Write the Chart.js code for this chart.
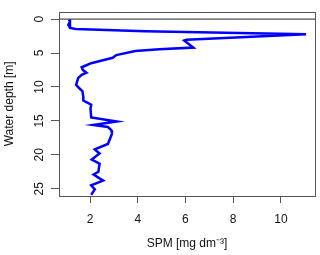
<!DOCTYPE html>
<html>
<head>
<meta charset="utf-8">
<script src="https://cdn.jsdelivr.net/npm/chart.js@4/dist/chart.umd.min.js"></script>
<style>
html, body { margin: 0; padding: 0; background: #fff; }
#wrap { width: 320px; height: 255px; }
</style>
</head>
<body>
<div id="wrap"><canvas id="c"></canvas></div>
<script>
// SPM profile
const depth = [0.05, 0.4, 0.85, 1.3, 1.45, 1.8, 2.25, 3.05, 3.15, 4.2, 4.45, 4.7, 5.3, 5.7, 6.1, 6.5, 6.8, 7.1,
    7.5, 7.9, 8.2, 8.7, 9.7, 10.2, 10.6, 11.5, 12.0, 12.6, 13.2, 14.5, 15.1, 15.6, 15.9, 16.4, 16.9, 18.4,
    19.2, 19.8, 20.7, 21.3, 22.5, 22.9, 23.8, 24.5, 25.1, 25.9];
const spm = [1.12, 1.16, 1.09, 1.16, 1.4, 4.3, 11.05, 6.05, 5.95, 6.33, 4.9, 3.9, 3.1, 2.95, 2.5, 2.05, 1.85, 1.65,
    1.7, 1.85, 1.65, 1.5, 1.42, 1.55, 1.68, 1.72, 1.72, 2.05, 2.02, 2.05, 3.12, 2.14, 2.75, 2.9, 2.92, 2.75,
    2.2, 2.4, 2.07, 2.4, 2.35, 2.15, 2.55, 2.05, 2.2, 2.05];

const xTicks = [2, 4, 6, 8, 10];
const yTicks = [0, 5, 10, 15, 20, 25];
const xLimits = [0.70, 11.43];
const yLimits = [-1.09, 26.07];
const refDepth = 0;

const axisColor = '#555';
const textColor = '#111';
const font = { family: 'Liberation Sans, Arial, sans-serif', size: 12 };

const profile = depth.map(function (d, i) { return { x: spm[i], y: d }; });
const zeroLine = xLimits.map(function (x) { return { x: x, y: refDepth }; });

const boxPlugin = {
    id: 'box',
    afterDatasetsDraw: function (chart) {
        const a = chart.chartArea;
        const ctx = chart.ctx;
        ctx.save();
        ctx.strokeStyle = axisColor;
        ctx.lineWidth = 1;
        ctx.strokeRect(Math.round(a.left) + 0.5, Math.round(a.top) + 0.5,
            Math.round(a.right - a.left), Math.round(a.bottom - a.top));
        ctx.restore();
    }
};

new Chart(document.getElementById('c'), {
    type: 'scatter',
    data: {
        datasets: [
            {
                data: zeroLine,
                showLine: true,
                borderColor: '#222',
                borderWidth: 1,
                pointRadius: 0,
                fill: false,
            },
            {
                data: profile,
                showLine: true,
                borderColor: '#0000ff',
                borderWidth: 2.5,
                pointRadius: 0,
                tension: 0,
                fill: false,
            }
        ]
    },
    options: {
        responsive: true,
        maintainAspectRatio: false,
        animation: false,
        layout: { padding: { top: 4, right: 5, left: 0, bottom: 0 } },
        scales: {
            x: {
                type: 'linear',
                min: xLimits[0],
                max: xLimits[1],
                afterBuildTicks: function (scale) {
                    scale.ticks = xTicks.map(function (v) { return { value: v }; });
                },
                afterFit: function (scale) { scale.height = 59; },
                grid: { drawOnChartArea: false, drawTicks: true, tickLength: 7, tickColor: axisColor },
                border: { display: false },
                ticks: { color: textColor, font: font, padding: 9, maxRotation: 0 },
                title: {
                    display: true,
                    text: 'SPM [mg dm\u207B\u00B3]',
                    color: textColor,
                    font: font,
                    padding: { top: 4.5, bottom: 4.5 }
                }
            },
            y: {
                type: 'linear',
                reverse: true,
                min: yLimits[0],
                max: yLimits[1],
                afterBuildTicks: function (scale) {
                    scale.ticks = yTicks.map(function (v) { return { value: v }; });
                },
                afterFit: function (scale) { scale.width = 59; },
                grid: { drawOnChartArea: false, drawTicks: true, tickLength: 8, tickColor: axisColor },
                border: { display: false },
                ticks: { color: textColor, font: font, padding: 4.5, minRotation: 90, maxRotation: 90, crossAlign: 'center' },
                title: {
                    display: true,
                    text: 'Water depth [m]',
                    color: textColor,
                    font: font,
                    padding: { top: 2.5, bottom: 2.5 }
                }
            }
        },
        plugins: {
            legend: { display: false },
            tooltip: { enabled: false }
        }
    },
    plugins: [boxPlugin]
});
</script>
</body>
</html>
